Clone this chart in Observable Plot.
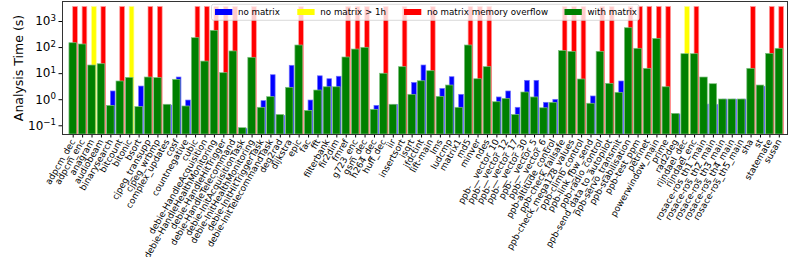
<!DOCTYPE html>
<html><head><meta charset="utf-8">
<script src="https://cdn.jsdelivr.net/npm/d3@7"></script>
<script src="https://cdn.jsdelivr.net/npm/@observablehq/plot@0.6"></script>
<style>
body{margin:0;background:#fff;}
#chart{width:789px;height:257px;}
</style></head><body><div id="chart"></div>
<script>
const benchmarks = ["adpcm_dec","adpcm_enc","anagram","audiobeam","binarysearch","bitcount","bitonic","bsort","cjpeg_transupp","cjpeg_wrbmp","complex_updates","cosf","countnegative","cubic","debie-HandleAcquisition","debie-HandleHealthMonitoring","debie-HandleHitTrigger","debie-HandleTelecommand","debie-InitAcquisitionTask","debie-InitHealthMonitoring","debie-InitHitTriggerTask","debie-InitTelecommandTask","deg2rad","dijkstra","epic","fac","fft","filterbank","fir2dim","fmref","g723_enc","gsm_dec","h264_dec","huff_dec","iir","insertsort","isqrt","jfdctint","lift-main","lms","ludcmp","matrix1","md5","minver","ndes","ppb-__vector_10","ppb-__vector_12","ppb-__vector_17","ppb-__vector_30","ppb-__vector_5","ppb-__vector_6","ppb-altitude_control","ppb-check_failsafe","ppb-check_mega128_values","ppb-climb_control","ppb-link_fbw_send","ppb-radio_control","ppb-send_data_to_autopilot","ppb-servo_transmit","ppb-stabilisation","ppb-test_ppm","petrinet","powerwindow_main","prime","rad2deg","rijndael_dec","rijndael_enc","rosace-ros_th1_main","rosace-ros_th2_main","rosace-ros_th3_main","rosace-ros_th4_main","rosace-ros_th5_main","sha","st","statemate","susan"];

// analysis time with matrix (s)
const withMatrix = [147,131,20.5,23,0.58,5.0,6.9,0.52,7.1,6.8,0.64,5.8,0.55,229,29,439,10.4,71,0.081,40.5,0.49,1.25,0.26,2.86,120,0.37,2.25,3.0,3.0,41.6,84,98,0.41,9.9,0.64,17.7,1.54,5.1,12.4,1.29,3.5,0.49,120,6.1,17.7,0.80,1.08,0.26,1.89,1.22,0.47,0.76,73,68.6,5.96,0.70,68.6,4.07,1.84,553,89.7,15.3,216,3.0,0.287,55.7,55.7,7.1,3.93,1.02,1.02,1.02,15.3,3.5,57.5,89.7];

// analysis time without matrix (s); null when it did not finish
const noMatrix = [null,null,null,null,2.07,null,null,3.2,null,null,0.6,7.1,0.93,null,null,null,null,null,0.075,null,0.88,8.7,0.24,20,null,0.93,7.9,6.1,7.6,null,null,null,0.58,null,0.62,null,4.4,20.5,null,2.6,7.3,1.54,null,null,null,1.22,2.07,0.49,5.3,5.3,0.76,0.99,null,null,null,1.33,null,null,5.0,null,null,null,null,null,0.27,null,null,0.65,0.62,1.0,1.0,1.0,null,3.1,null,null];

// outcome without matrix: ok | timeout (> 1h) | oom (memory overflow)
const noMatrixStatus = ["oom","oom","timeout","oom","ok","oom","timeout","ok","oom","oom","ok","ok","ok","oom","oom","oom","oom","oom","ok","oom","ok","ok","ok","ok","oom","ok","ok","ok","ok","oom","oom","oom","ok","oom","ok","oom","ok","ok","oom","ok","ok","ok","oom","oom","oom","ok","ok","ok","ok","ok","ok","ok","oom","oom","oom","ok","oom","oom","ok","oom","oom","oom","oom","oom","ok","timeout","oom","ok","ok","ok","ok","ok","oom","ok","oom","oom"];

const timeLimit = 3600;
const yTicks = [0.1, 1, 10, 100, 1000];
const yTickExponents = ["−1","0","1","2","3"];
const yLabel = "Analysis Time (s)";
const legendLabels = ["no matrix","no matrix > 1h","no matrix memory overflow","with matrix"];

const font = "DejaVu Sans, sans-serif";
const yMin = 0.0463, yMax = 5850;
const idx = d3.range(benchmarks.length);
const rows = idx.map(i => ({
  i, name: benchmarks[i], w: withMatrix[i], s: noMatrixStatus[i],
  n: noMatrixStatus[i] === "ok" ? noMatrix[i] : timeLimit
}));
const fills = {ok: "#0000ff", timeout: "#ffff00", oom: "#ff0000"};
const edges = {ok: "#7070ff", timeout: "#ffff90", oom: "#ff9a9a"};

const leftBars = ["ok","timeout","oom"].map(s => Plot.rect(rows.filter(d => d.s === s), {
  x1: d => d.i, x2: d => d.i + 0.5, y1: yMin, y2: "n",
  fill: fills[s], stroke: edges[s], strokeWidth: 0.7
}));

const chart = Plot.plot({
  width: 789, height: 257,
  marginLeft: 62, marginRight: 2, marginTop: 1, marginBottom: 123,
  style: {fontFamily: font, background: "#fff"},
  x: {type: "linear", domain: [-1.1365, 75.87]},
  y: {type: "log", domain: [yMin, yMax]},
  marks: [
    ...leftBars,
    Plot.rect(rows, {x1: d => d.i - 0.4, x2: d => d.i + 0.4, y1: yMin, y2: "w",
      fill: "#008000", stroke: "#7fc07f", strokeWidth: 0.7}),
    Plot.axisY({ticks: yTicks, tickFormat: d => "10^" + yTickExponents[yTicks.indexOf(d)],
      fontSize: 12, tickSize: 3.5, tickPadding: 3, label: null, color: "#000"}),
    Plot.axisX({ticks: idx, tickFormat: i => benchmarks[i], tickRotate: -60,
      fontSize: 8.9, tickSize: 3.5, tickPadding: 2, label: null, color: "#000"}),
    Plot.frame({stroke: "#333", strokeWidth: 1})
  ]
});
document.getElementById("chart").appendChild(chart);

const svg = d3.select(chart);
// render y tick labels as 10 with a raised exponent
svg.selectAll('g[aria-label="y-axis tick label"] text').each(function() {
  const t = d3.select(this);
  const s = t.text();
  if (!s.startsWith("10^")) return;
  const exp = s.slice(3);
  t.text("10");
  t.append("tspan").attr("dy", "-0.55em").attr("font-size", "0.72em").text(exp);
});
svg.append("text")
  .attr("transform", "translate(19,68) rotate(-90)")
  .attr("text-anchor", "middle").attr("dominant-baseline", "middle")
  .attr("font-size", 12.5).attr("font-family", font).attr("fill", "#000")
  .text(yLabel);

// legend inside the plot area
const lg = svg.append("g").attr("text-anchor", "start");
lg.append("rect").attr("x", 211.5).attr("y", 4.3).attr("width", 427.5).attr("height", 16)
  .attr("rx", 2).attr("fill", "#fff").attr("fill-opacity", 0.8).attr("stroke", "#d0d0d0").attr("stroke-width", 0.8);
const swatchX = [215, 297.3, 404, 564.5];
const legendColors = [fills.ok, fills.timeout, fills.oom, "#008000"];
legendLabels.forEach((t, k) => {
  lg.append("rect").attr("x", swatchX[k]).attr("y", 9).attr("width", 17.3).attr("height", 6)
    .attr("fill", legendColors[k]);
  lg.append("text").attr("x", swatchX[k] + 23).attr("y", 12.2).attr("dominant-baseline", "middle")
    .attr("text-anchor", "start")
    .attr("font-size", 8.7).attr("font-family", font).attr("fill", "#000").text(t);
});
</script></body></html>
